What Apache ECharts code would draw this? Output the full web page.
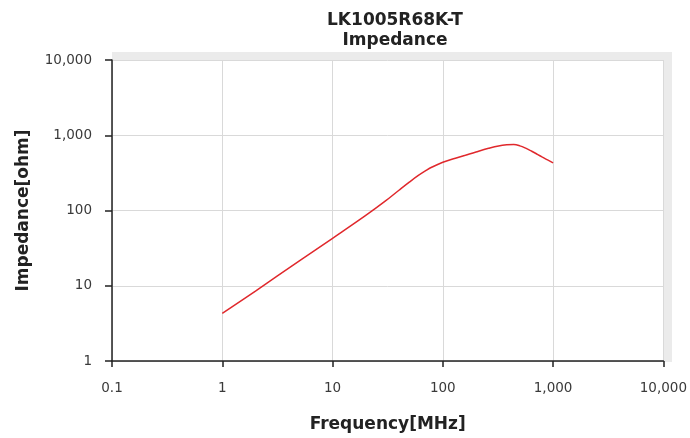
<!DOCTYPE html>
<html>
<head>
<meta charset="utf-8">
<script src="https://cdn.jsdelivr.net/npm/echarts@6/dist/echarts.min.js"></script>
<style>
  html, body { margin: 0; padding: 0; background: #fff; }
  #chart { width: 690px; height: 438px; }
</style>
</head>
<body>
<div id="chart"></div>
<script>
// frequency in MHz, impedance in ohm
const freqMHz = [1, 2, 5, 10, 20, 30, 40, 50, 60, 70, 80, 100, 130, 160, 200, 260, 320, 380, 440, 500, 570, 640, 720, 800, 900, 1000];
const impedanceOhm = [4.3, 8.5, 21.4, 42.7, 86, 133, 186, 240, 292, 338, 378, 438, 495, 543, 600, 670, 721, 746, 752, 723, 668, 613, 558, 512, 466, 430];

const xRange = [0.1, 10000];
const yRange = [1, 10000];

const FONT = "DejaVu Sans";

function fmt(v) {
    return Number(v.toPrecision(6)).toLocaleString("en-US");
}

const points = freqMHz.map((f, i) => [f, impedanceOhm[i]]);

const chart = echarts.init(document.getElementById("chart"));

chart.setOption({
    animation: false,
    backgroundColor: "#fff",

    title: {
        text: "LK1005R68K-T\nImpedance",
        left: 390,
        top: 6,
        textAlign: "center",
        textStyle: {
            fontFamily: FONT,
            fontSize: 17,
            fontWeight: "bold",
            lineHeight: 20,
            color: "#222"
        }
    },

    grid: [
        {
            left: 112, right: 26, top: 60, bottom: 77,
            show: true,
            backgroundColor: "#fff",
            borderWidth: 0,
            z: 1
        },
        {
            // grey frame behind the plot
            left: 112, right: 18, top: 52, bottom: 76,
            show: true,
            backgroundColor: "#ebebeb",
            borderWidth: 0,
            z: 0
        }
    ],

    xAxis: [
        {
            type: "log",
            logBase: 10,
            min: xRange[0],
            max: xRange[1],
            gridIndex: 0,
            z: 3,
            name: "Frequency[MHz]",
            nameLocation: "middle",
            nameGap: 55,
            nameTextStyle: {
                fontFamily: FONT,
                fontSize: 17,
                fontWeight: "bold",
                color: "#222"
            },
            axisLine: { lineStyle: { color: "#222", width: 1.5 } },
            axisTick: { show: true, length: 6, lineStyle: { color: "#222", width: 1.5 } },
            axisLabel: {
                fontFamily: FONT,
                fontSize: 13.5,
                color: "#3a3a3a",
                margin: 20,
                showMaxLabel: true,
                formatter: fmt
            },
            splitLine: { show: true, lineStyle: { color: "#d9d9d9", width: 1 } },
            minorTick: { show: false }
        },
        {
            type: "value",
            gridIndex: 1,
            show: false
        }
    ],

    yAxis: [
        {
            type: "log",
            logBase: 10,
            min: yRange[0],
            max: yRange[1],
            gridIndex: 0,
            z: 3,
            name: "Impedance[ohm]",
            nameLocation: "middle",
            nameGap: 80,
            nameRotate: 90,
            nameTextStyle: {
                fontFamily: FONT,
                fontSize: 17,
                fontWeight: "bold",
                color: "#222"
            },
            axisLine: { show: true, lineStyle: { color: "#222", width: 1.5 } },
            axisTick: { show: true, length: 7, lineStyle: { color: "#222", width: 1.5 } },
            axisLabel: {
                fontFamily: FONT,
                fontSize: 13.5,
                color: "#3a3a3a",
                margin: 20,
                formatter: fmt
            },
            splitLine: { show: true, lineStyle: { color: "#d9d9d9", width: 1 } }
        },
        {
            type: "value",
            gridIndex: 1,
            show: false
        }
    ],

    series: [
        {
            name: "Impedance",
            type: "line",
            xAxisIndex: 0,
            yAxisIndex: 0,
            data: points,
            smooth: 0.4,
            showSymbol: false,
            z: 4,
            lineStyle: { color: "#e0282c", width: 1.5 }
        }
    ]
});
</script>
</body>
</html>
